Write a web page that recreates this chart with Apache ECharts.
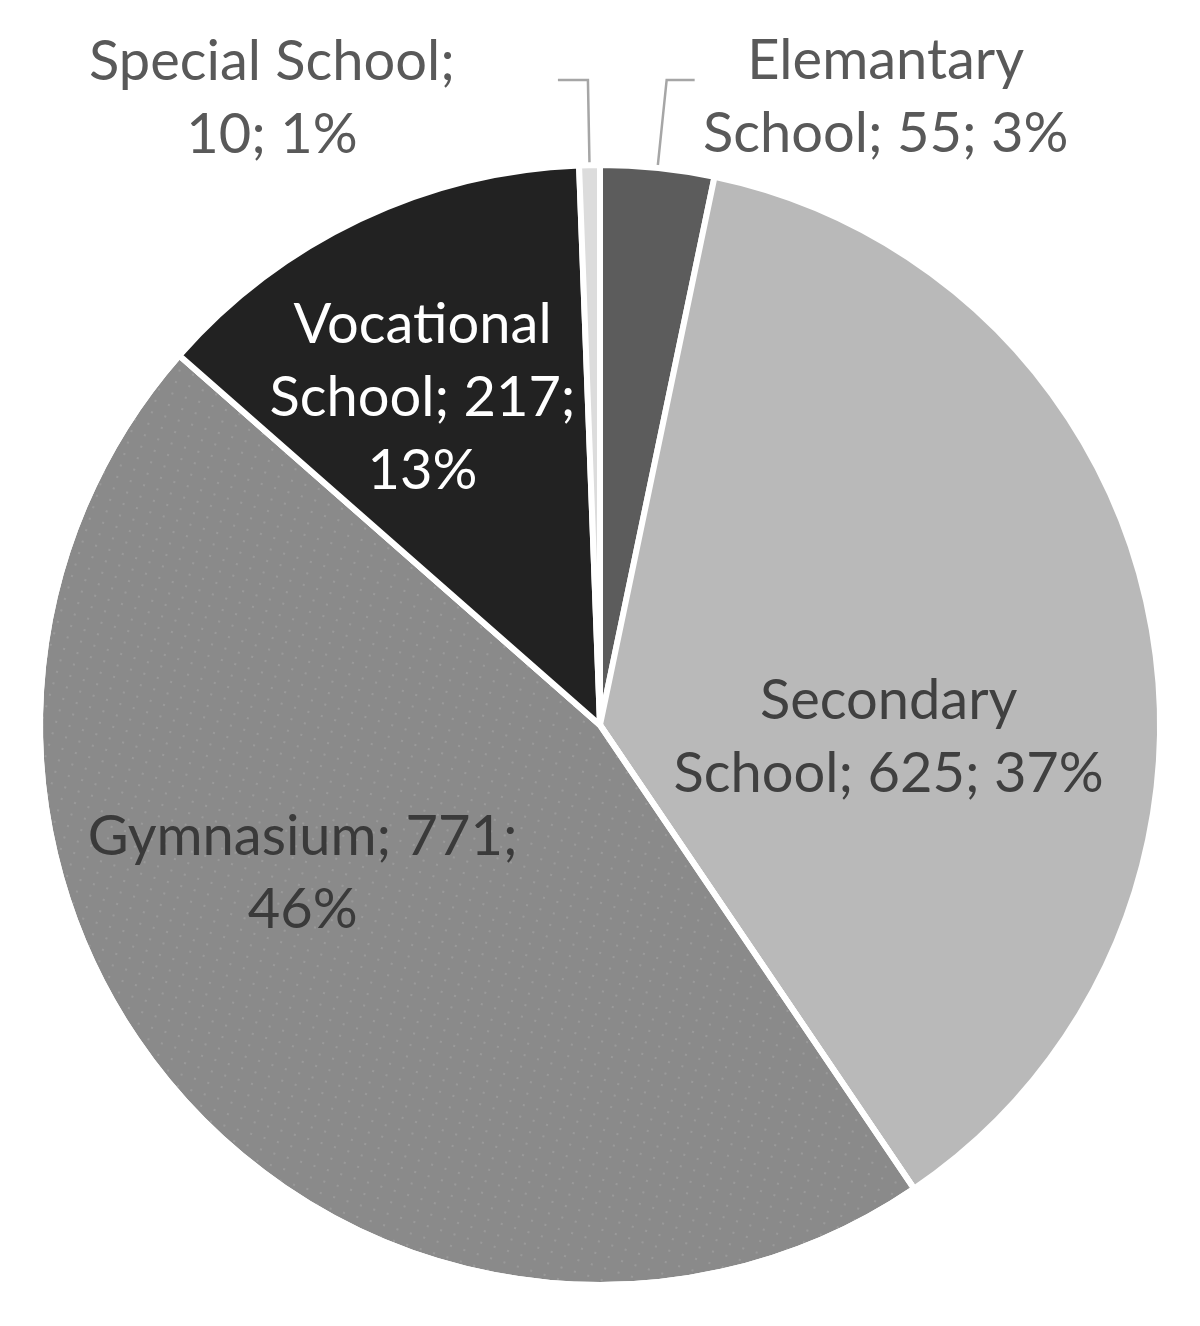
<!DOCTYPE html>
<html lang="en">
<head>
<meta charset="UTF-8">
<title>Schools pie</title>
<script src="https://cdn.jsdelivr.net/npm/echarts@6/dist/echarts.min.js"></script>
<style>
    html, body { margin: 0; padding: 0; background: #fff; }
    #chart { width: 1200px; height: 1326px; }
</style>
</head>
<body>
<div id="chart"></div>
<script>
// data, clockwise from 12 o'clock
var names = ['Elemantary School', 'Secondary School', 'Gymnasium', 'Vocational School', 'Special School'];
var counts = [55, 625, 771, 217, 10];

// look of each slice
var colors = ['#5c5c5c', '#b9b9b9', '#8a8a8a', '#222222', '#dcdcdc'];
var textColors = ['#595959', '#404040', '#3a3a3a', '#ffffff', '#595959'];
// label wraps after these words (0-based)
var breaks = [[0], [0], [1], [0, 2], [1]];
// inside labels: shift from the default spot (px)
var shifts = [null, [11, 67], [-85, -39], [-56, -71], null];
var outside = [true, false, false, false, true];

var font = 'Lato, "Open Sans", sans-serif';
var fs = 56;

function labelText(p, rich) {
    var words = (p.name + '; ' + p.value + '; ' + p.percent + '%').split(' ');
    var lines = [], cur = [];
    var br = breaks[p.dataIndex];
    for (var i = 0; i < words.length; i++) {
        cur.push(words[i]);
        if (br.indexOf(i) >= 0) { lines.push(cur.join(' ')); cur = []; }
    }
    if (cur.length) lines.push(cur.join(' '));
    if (rich) return lines.map(function (l) { return '{o|' + l + '}'; }).join('\n');
    return lines.join('\n');
}

var items = names.map(function (n, i) {
    var it = {
        name: n,
        value: counts[i],
        itemStyle: { color: colors[i] },
        label: { color: textColors[i] }
    };
    if (outside[i]) {
        var w = i === 0 ? 380 : 400;
        it.label = {
            position: 'outside',
            color: textColors[i],
            distanceToLabelLine: i === 0 ? 1 : 86,
            padding: [36, 0, 0, 0],
            formatter: function (p) { return labelText(p, true); },
            rich: {
                o: { width: w, align: 'center', fontSize: fs, lineHeight: 73,
                     fontFamily: font, color: textColors[i] }
            }
        };
        it.labelLine = { show: true, length: i === 0 ? 88.5 : 85, length2: i === 0 ? 28 : 30 };
    }
    return it;
});

items[2].itemStyle.decal = {
    symbol: 'circle',
    symbolSize: 1,
    dashArrayX: [2, 12],
    dashArrayY: [2, 10],
    rotation: 0.3,
    color: 'rgba(185,185,185,0.45)'
};

var chart = echarts.init(document.getElementById('chart'), null, { renderer: 'canvas' });
chart.setOption({
    backgroundColor: '#ffffff',
    animation: false,
    series: [{
        type: 'pie',
        center: [600, 725],
        radius: 560,
        startAngle: 90,
        clockwise: true,
        avoidLabelOverlap: false,
        percentPrecision: 0,
        itemStyle: { borderColor: '#ffffff', borderWidth: 6 },
        label: {
            show: true,
            position: 'inside',
            fontFamily: font,
            fontSize: fs,
            lineHeight: 73,
            formatter: function (p) { return labelText(p, false); }
        },
        labelLine: {
            lineStyle: { color: '#a6a6a6', width: 2.5 }
        },
        labelLayout: function (params) {
            var s = shifts[params.dataIndex];
            if (!s) return;
            var r = params.labelRect;
            return { x: r.x + r.width / 2 + s[0], y: r.y + r.height / 2 + s[1] };
        },
        emphasis: { disabled: true },
        data: items
    }]
});
</script>
</body>
</html>
